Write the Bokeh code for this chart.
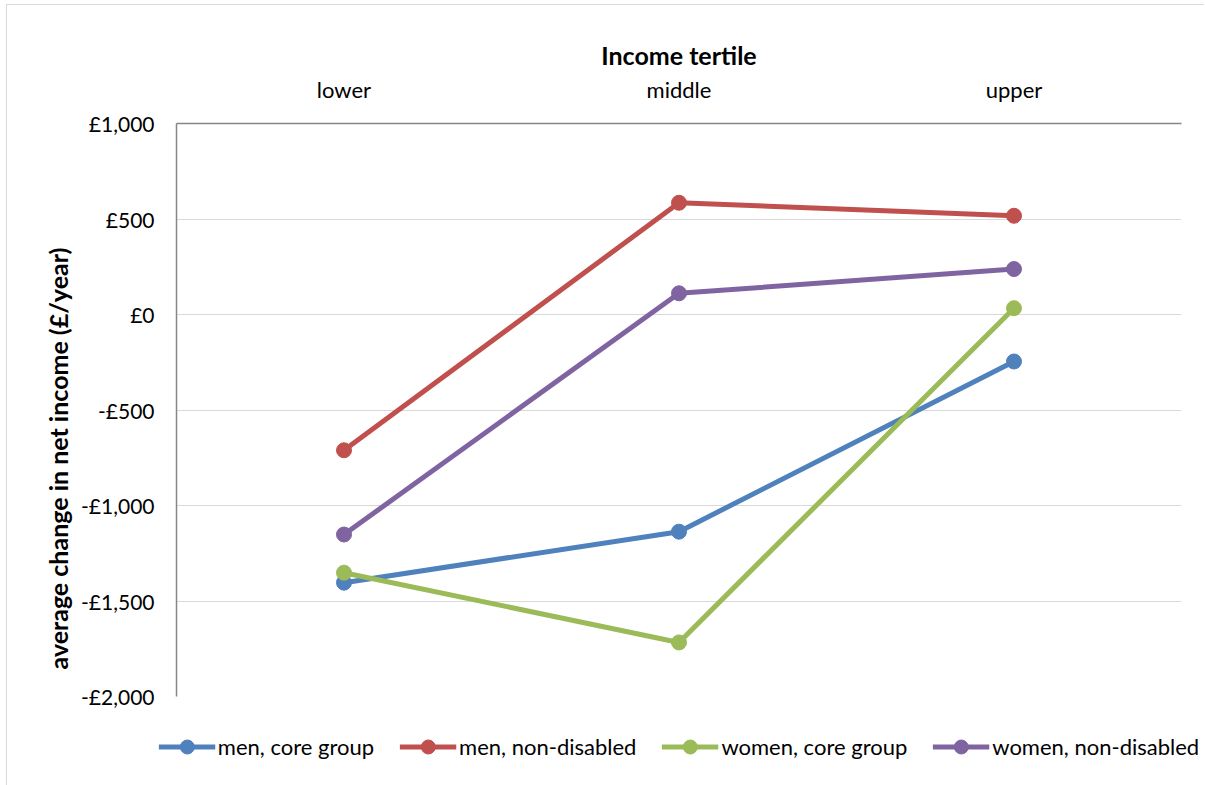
from bokeh.plotting import figure
from bokeh.models import Range1d, FixedTicker, Legend, LegendItem, Title
from bokeh.embed import file_html
from bokeh.resources import INLINE

categories = ["lower", "middle", "upper"]
men_core = [-1404, -1137, -246]
men_nondis = [-711, 585, 517]
women_core = [-1352, -1717, 33]
women_nondis = [-1152, 111, 238]
series_names = ["men, core group", "men, non-disabled", "women, core group", "women, non-disabled"]
series_colors = ["#4F81BD", "#C0504D", "#9BBB59", "#8064A2"]
y_ticks = [-2000, -1500, -1000, -500, 0, 500, 1000]
y_tick_labels = ["-£2,000", "-£1,500", "-£1,000", "-£500", "£0", "£500", "£1,000"]

FONT = "Lato"

p = figure(frame_width=1005, frame_height=573, x_range=categories, y_range=Range1d(-2000, 1000),
           x_axis_location="above", output_backend="svg", toolbar_location=None,
           min_border_left=169, min_border_right=23, min_border_top=118, min_border_bottom=60)
p.styles = {"margin-left": "6px", "margin-top": "4px",
            "border-left": "1px solid #d9d9d9", "border-top": "1px solid #d9d9d9"}
p.outline_line_color = None
p.xgrid.grid_line_color = None
p.ygrid.grid_line_color = "#d9d9d9"
p.ygrid.grid_line_width = 1

xa = p.xaxis[0]
xa.axis_label = "Income tertile"
xa.axis_label_text_font = FONT
xa.axis_label_text_font_style = "bold"
xa.axis_label_text_font_size = "25px"
xa.axis_label_text_color = "#000000"
xa.axis_label_standoff = 3
xa.major_label_text_font = FONT
xa.major_label_text_font_size = "22px"
xa.major_label_text_color = "#000000"
xa.major_label_standoff = 15
xa.major_tick_line_color = None
xa.minor_tick_line_color = None
xa.axis_line_color = "#868686"
xa.axis_line_width = 1.5

ya = p.yaxis[0]
ya.ticker = FixedTicker(ticks=y_ticks)
ya.major_label_overrides = {t: l for t, l in zip(y_ticks, y_tick_labels)}
ya.major_label_text_font = FONT
ya.major_label_text_font_size = "21px"
ya.major_label_text_color = "#000000"
ya.major_label_standoff = 16
ya.major_tick_line_color = None
ya.minor_tick_line_color = None
ya.axis_line_color = "#868686"
ya.axis_line_width = 1.5
p.ygrid.ticker = FixedTicker(ticks=y_ticks)

ytitle = Title(text="average change in net income (£/year)", align="left", offset=27,
               standoff=12, text_font=FONT, text_font_style="bold", text_font_size="25px",
               text_color="#000000")
p.add_layout(ytitle, "left")

items = []
for name, vals, col in zip(series_names, [men_core, men_nondis, women_core, women_nondis], series_colors):
    lr = p.line(categories, vals, line_color=col, line_width=5)
    sr = p.scatter(categories, vals, marker="circle", size=15, fill_color=col, line_color=col)
    items.append(LegendItem(label=name, renderers=[lr, sr]))

legend = Legend(items=items, orientation="horizontal", ncols=4, location="top_center",
                label_text_font=FONT, label_text_font_size="22px", label_text_color="#000000",
                glyph_width=57, glyph_height=35, label_standoff=3, spacing=25,
                padding=0, margin=33, background_fill_alpha=0, border_line_color=None)
p.add_layout(legend, "below")

open("out.html", "w").write(file_html(p, INLINE))
